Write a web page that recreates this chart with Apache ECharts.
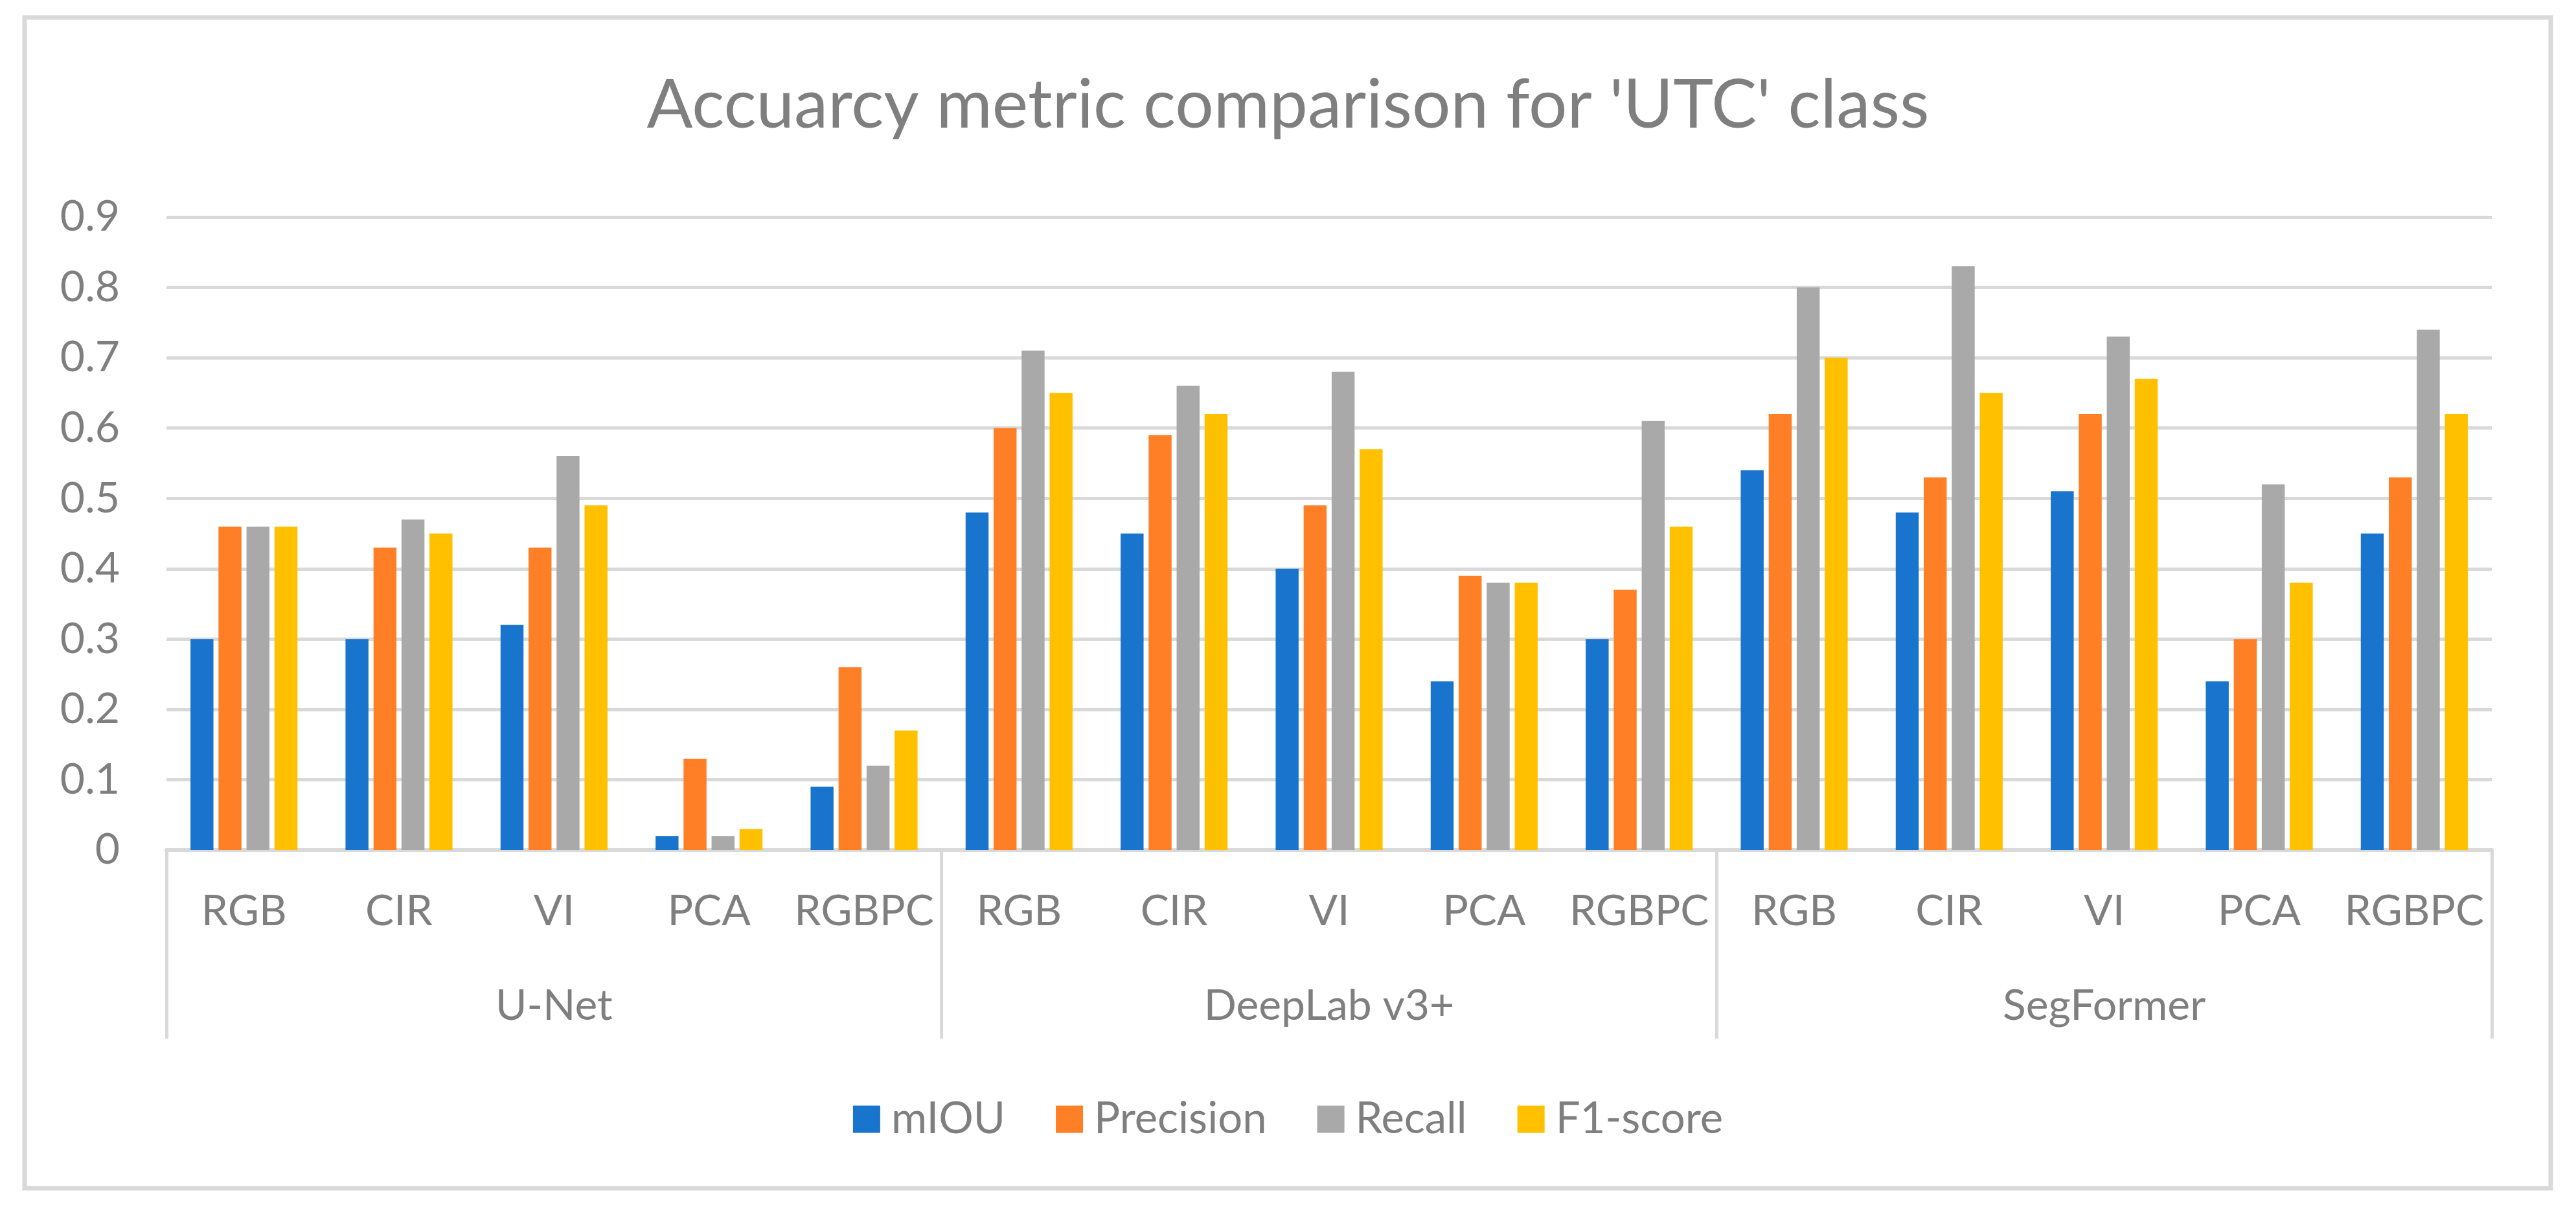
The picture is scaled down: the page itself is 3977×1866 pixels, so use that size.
<!DOCTYPE html>
<html>
<head>
<meta charset="utf-8">
<script src="https://cdn.jsdelivr.net/npm/echarts@6/dist/echarts.min.js"></script>
<style>
  html, body { margin: 0; padding: 0; background: #ffffff; }
  #chart { width: 3977px; height: 1866px; }
</style>
</head>
<body>
<div id="chart"></div>
<script>
const titleText = "Accuarcy metric comparison for 'UTC' class";
const models = ["U-Net", "DeepLab v3+", "SegFormer"];
const inputs = ["RGB", "CIR", "VI", "PCA", "RGBPC"];
const seriesNames = ["mIOU", "Precision", "Recall", "F1-score"];
const colors = ["#1874CD", "#FF7F27", "#A9A9A9", "#FFC000"];

// order: U-Net (RGB, CIR, VI, PCA, RGBPC), DeepLab v3+ (...), SegFormer (...)
const mIOU      = [0.30, 0.30, 0.32, 0.02, 0.09, 0.48, 0.45, 0.40, 0.24, 0.30, 0.54, 0.48, 0.51, 0.24, 0.45];
const precision = [0.46, 0.43, 0.43, 0.13, 0.26, 0.60, 0.59, 0.49, 0.39, 0.37, 0.62, 0.53, 0.62, 0.30, 0.53];
const recall    = [0.46, 0.47, 0.56, 0.02, 0.12, 0.71, 0.66, 0.68, 0.38, 0.61, 0.80, 0.83, 0.73, 0.52, 0.74];
const f1score   = [0.46, 0.45, 0.49, 0.03, 0.17, 0.65, 0.62, 0.57, 0.38, 0.46, 0.70, 0.65, 0.67, 0.38, 0.62];
const yTicks    = [0, 0.1, 0.2, 0.3, 0.4, 0.5, 0.6, 0.7, 0.8, 0.9];

const values = [mIOU, precision, recall, f1score];
const categories = [];
models.forEach(() => inputs.forEach(i => categories.push(i)));

const FONT = "Lato";
const TXT = "#7f7f7f";
const LINE = "#d9d9d9";

const chart = echarts.init(document.getElementById('chart'), null, { renderer: 'canvas' });
chart.setOption({
  backgroundColor: '#ffffff',
  animation: false,
  textStyle: { fontFamily: FONT },
  graphic: [{
    type: 'rect',
    shape: { x: 38, y: 27, width: 3900, height: 1807 },
    style: { fill: 'none', stroke: LINE, lineWidth: 7 },
    silent: true
  }],
  title: {
    text: titleText,
    left: 'center',
    top: 106,
    textStyle: { fontFamily: FONT, fontSize: 105, fontWeight: 'normal', color: TXT }
  },
  legend: {
    data: seriesNames,
    left: 'center',
    top: 1694,
    icon: 'rect',
    itemWidth: 42,
    itemHeight: 42,
    itemGap: 78,
    padding: 0,
    textStyle: { fontFamily: FONT, fontSize: 67, color: TXT, padding: [0, 0, 0, 12] }
  },
  grid: { left: 257, right: 130, top: 335, bottom: 554, containLabel: false },
  xAxis: [
    {
      type: 'category',
      data: categories,
      position: 'bottom',
      axisLine: { show: true, lineStyle: { color: LINE, width: 6 } },
      axisTick: { show: false },
      axisLabel: { interval: 0, margin: 62, fontFamily: FONT, fontSize: 66, color: TXT }
    },
    {
      type: 'category',
      data: models,
      position: 'bottom',
      offset: 0,
      axisLine: { show: false },
      axisTick: { show: true, length: 291, interval: 0, lineStyle: { color: LINE, width: 5 } },
      axisLabel: { interval: 0, margin: 208, fontFamily: FONT, fontSize: 66, color: TXT }
    }
  ],
  yAxis: {
    type: 'value',
    min: yTicks[0],
    max: yTicks[yTicks.length - 1],
    interval: 0.1,
    axisLine: { show: false },
    axisTick: { show: false },
    axisLabel: {
      margin: 72, fontFamily: FONT, fontSize: 66, color: TXT,
      formatter: v => (Math.round(v * 10) / 10).toString()
    },
    splitLine: { show: true, lineStyle: { color: LINE, width: 5 } }
  },
  series: seriesNames.map((name, k) => ({
    name: name,
    type: 'bar',
    xAxisIndex: 0,
    data: values[k],
    itemStyle: { color: colors[k] },
    barCategoryGap: '31%',
    barGap: '22%'
  }))
});
</script>
</body>
</html>
